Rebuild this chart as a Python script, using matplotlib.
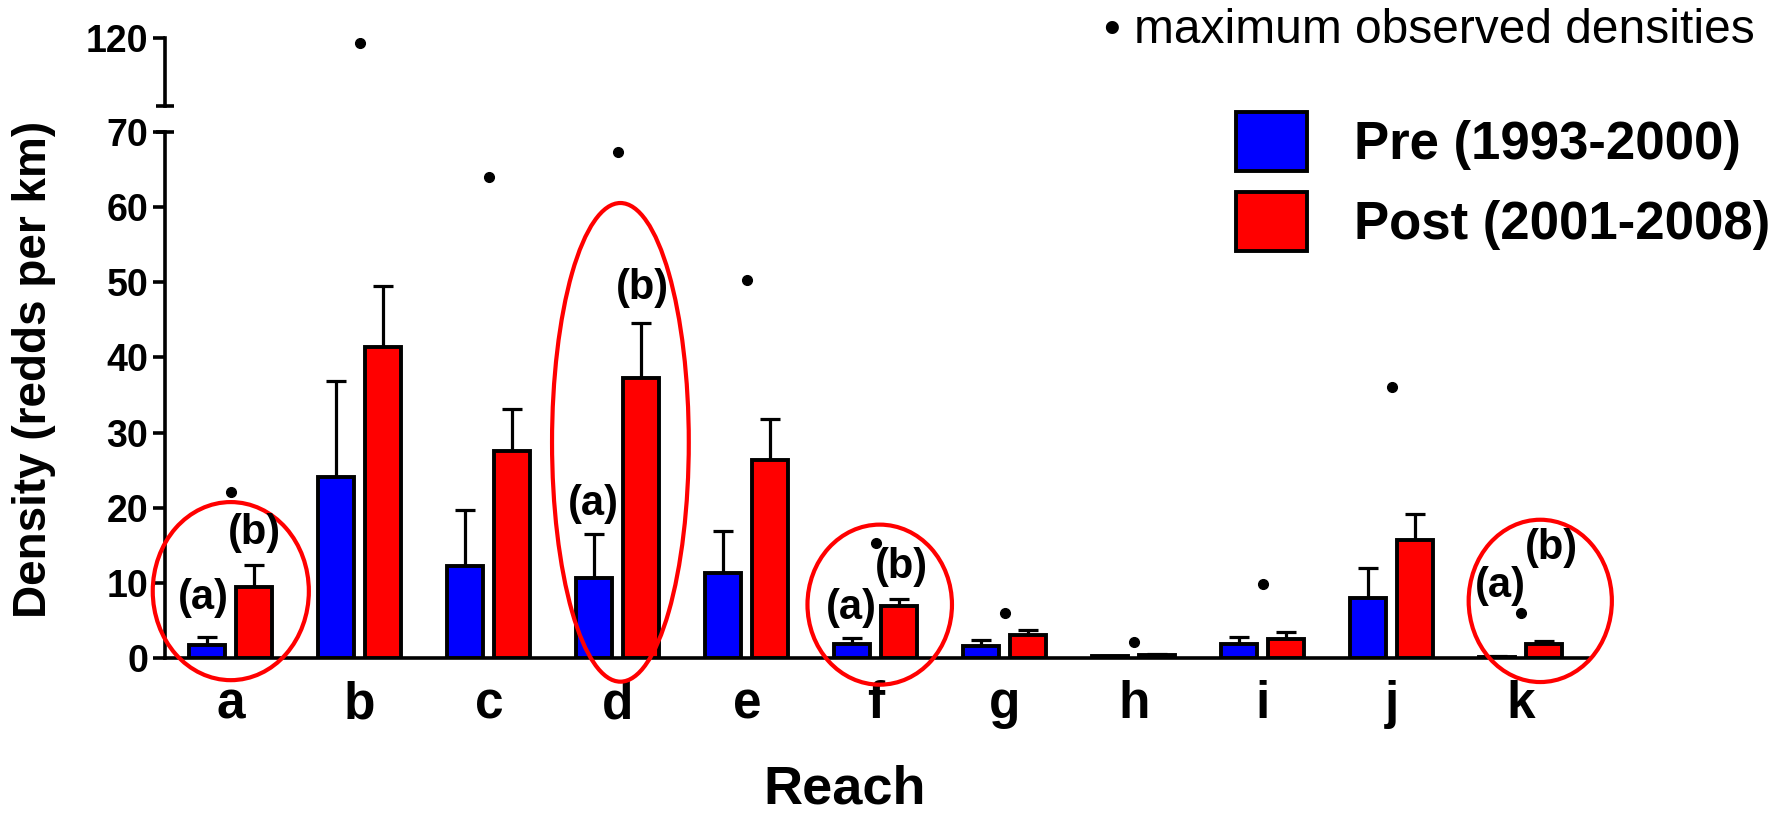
import matplotlib
matplotlib.use('Agg')
import matplotlib.pyplot as plt
from matplotlib.patches import Ellipse, Patch
import numpy as np

# data
reaches = ['a', 'b', 'c', 'd', 'e', 'f', 'g', 'h', 'i', 'j', 'k']
pre_mean = [1.7, 24.1, 12.3, 10.7, 11.3, 1.9, 1.6, 0.2, 1.9, 8.0, 0.15]
pre_err = [1.1, 12.8, 7.4, 5.8, 5.6, 0.8, 0.8, 0.1, 0.9, 4.0, 0.05]
post_mean = [9.4, 41.4, 27.5, 37.3, 26.3, 6.9, 3.1, 0.4, 2.5, 15.7, 1.9]
post_err = [3.0, 8.1, 5.7, 7.3, 5.5, 1.0, 0.6, 0.1, 1.0, 3.4, 0.4]
max_obs = [22.1, 119.3, 64.0, 67.3, 50.3, 15.3, 6.0, 2.1, 9.9, 36.1, 6.0]

# circled reaches with (a)/(b) annotations: ellipse centre, width, height
circled = [0, 3, 5, 10]
ell_center = [(0.0, 8.9), (3.02, 28.7), (5.03, 7.1), (10.15, 7.6)]
ell_size = [(1.21, 23.7), (1.06, 63.7), (1.12, 21.3), (1.11, 21.6)]
lab_a = [(-0.21, 8.0), (2.81, 20.5), (4.81, 6.7), (9.84, 9.6)]
lab_b = [(0.18, 16.7), (3.19, 49.2), (5.20, 12.1), (10.24, 14.7)]

BLUE = '#0000FF'
RED = '#FF0000'

plt.rcParams['font.family'] = ['Liberation Sans', 'DejaVu Sans']
plt.rcParams['font.weight'] = 'bold'

fig = plt.figure(figsize=(17.81, 8.14), dpi=100)
W, H = 1781.0, 814.0
ax = fig.add_axes([165 / W, 1 - 658 / H, 1423 / W, 526 / H])
ax_top = fig.add_axes([165 / W, 1 - 106 / H, 1423 / W, 68 / H], sharex=ax)

x = np.arange(len(reaches))
off = 0.182
bw = 0.28

for a in (ax, ax_top):
    a.bar(x - off, pre_mean, bw, color=BLUE, edgecolor='black', linewidth=2.8, zorder=3)
    a.bar(x + off, post_mean, bw, color=RED, edgecolor='black', linewidth=2.8, zorder=3)
    a.errorbar(x - off, pre_mean, yerr=[np.zeros(len(x)), pre_err], fmt='none',
               ecolor='black', elinewidth=2.3, capsize=7.5, capthick=2.3, zorder=2)
    a.errorbar(x + off, post_mean, yerr=[np.zeros(len(x)), post_err], fmt='none',
               ecolor='black', elinewidth=2.3, capsize=7.5, capthick=2.3, zorder=2)
    a.plot(x, max_obs, 'o', color='black', markersize=7, zorder=4)
    for s in ('top', 'right'):
        a.spines[s].set_visible(False)
    a.spines['left'].set_linewidth(2.6)
    a.tick_params(axis='y', direction='out', length=9, width=2.6, labelsize=27, pad=3)

ax.set_xlim(-0.51, 10.52)
ax.set_ylim(0, 70)
ax.set_yticks([0, 10, 20, 30, 40, 50, 60, 70])
ax.spines['bottom'].set_linewidth(2.6)
ax.set_xticks(x)
ax.set_xticklabels(reaches, fontsize=37, fontweight='bold')
ax.tick_params(axis='x', length=0, pad=16)

ax_top.set_ylim(111, 120)
ax_top.set_yticks([120])
ax_top.spines['bottom'].set_visible(False)
ax_top.tick_params(axis='x', bottom=False, labelbottom=False)

# break marks on the left spine
ax_top.plot([0], [0], marker='_', markersize=13, markeredgewidth=2.6, color='black',
            transform=ax_top.transAxes, clip_on=False)
ax.plot([0], [1], marker='_', markersize=13, markeredgewidth=2.6, color='black',
        transform=ax.transAxes, clip_on=False)

for i, c in enumerate(circled):
    e = Ellipse(ell_center[i], ell_size[i][0], ell_size[i][1], fill=False,
                edgecolor=RED, linewidth=3.0, clip_on=False, zorder=5)
    ax.add_patch(e)
    ax.text(lab_a[i][0], lab_a[i][1], '(a)', ha='center', va='center', fontsize=30,
            fontweight='bold', zorder=6)
    ax.text(lab_b[i][0], lab_b[i][1], '(b)', ha='center', va='center', fontsize=30,
            fontweight='bold', zorder=6)

# legend
handles = [Patch(facecolor=BLUE, edgecolor='black', linewidth=2.8, label='Pre (1993-2000)'),
           Patch(facecolor=RED, edgecolor='black', linewidth=2.8, label='Post (2001-2008)')]
fig.legend(handles=handles, loc='upper left', bbox_to_anchor=(1236 / W, 1 - 112 / H),
           frameon=False, handlelength=1.34, handleheight=1.34, handletextpad=0.9,
           labelspacing=0.4, borderpad=0, borderaxespad=0,
           prop={'weight': 'bold', 'size': 38})

fig.text(1104 / W, 1 - 43 / H, '\u2022 maximum observed densities', ha='left', va='baseline',
         fontsize=34.5, fontweight='normal')

fig.text(34 / W, 1 - 369 / H, 'Density (redds per km)', rotation=90, ha='center', va='center',
         fontsize=33, fontweight='bold')
fig.text(845 / W, 1 - 790 / H, 'Reach', ha='center', va='center', fontsize=39, fontweight='bold')

fig.savefig('out.png', dpi=100)
